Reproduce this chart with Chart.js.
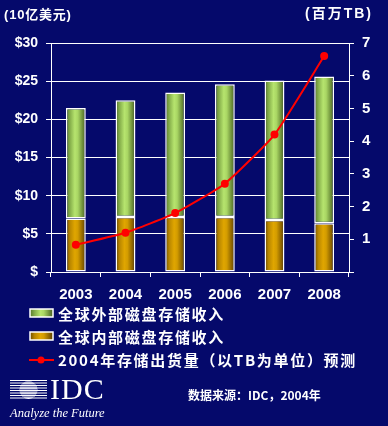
<!DOCTYPE html>
<html>
<head>
<meta charset="utf-8">
<script src="https://cdn.jsdelivr.net/npm/chart.js@4"></script>
<style>
  html, body { margin: 0; padding: 0; background: #05096b; }
  canvas { display: block; }
</style>
</head>
<body>
<canvas id="chart" width="388" height="426"></canvas>
<script>
// данные
const years = ["2003", "2004", "2005", "2006", "2007", "2008"];
const internalRevenue = [7.0, 7.2, 7.2, 7.2, 6.8, 6.4];       // 全球内部磁盘存储收入
const externalRevenue = [14.5, 15.3, 16.3, 17.4, 18.3, 19.2];  // 全球外部磁盘存储收入
const shippedTB = [0.83, 1.2, 1.8, 2.7, 4.2, 6.6];             // 出货量 (百万TB)
const leftTicks = [0, 5, 10, 15, 20, 25, 30];
const rightTicks = [0, 1, 2, 3, 4, 5, 6, 7];

const legendNames = [
    "全球外部磁盘存储收入",
    "全球内部磁盘存储收入",
    "2004年存储出货量（以TB为单位）预测"
];

const BG = "#05096b";
const BAR_PCT = 0.4;

const greenStops = [[0, "#56772c"], [0.2, "#84ad4a"], [0.45, "#b6e46e"], [0.6, "#a9d664"], [0.85, "#698a38"], [1, "#4c6226"]];
const brownStops = [[0, "#6e4c00"], [0.2, "#b88600"], [0.45, "#e0a600"], [0.6, "#d39c00"], [0.85, "#8a6200"], [1, "#5c4000"]];

function barGradient(ctx, stops, fallback) {
    const chart = ctx.chart;
    const xs = chart.scales && chart.scales.x;
    if (!xs || !chart.chartArea || ctx.dataIndex === undefined) return fallback;
    const xc = xs.getPixelForValue(ctx.dataIndex);
    const hw = xs.width / years.length * BAR_PCT / 2;
    const g = chart.ctx.createLinearGradient(xc - hw, 0, xc + hw, 0);
    stops.forEach(s => g.addColorStop(s[0], s[1]));
    return g;
}

function swatch(c, x, y, w, h, stops) {
    const g = c.createLinearGradient(x, 0, x + w, 0);
    stops.forEach(s => g.addColorStop(s[0], s[1]));
    c.fillStyle = g;
    c.fillRect(x, y, w, h);
    c.strokeStyle = "#ffffff";
    c.lineWidth = 1.5;
    c.strokeRect(x, y, w, h);
}

// подписи, легенда, логотип
const decor = {
    id: "decor",
    afterDraw(chart) {
        const c = chart.ctx;
        c.save();
        c.fillStyle = "#ffffff";
        c.textBaseline = "middle";

        c.font = 'bold 13px "Liberation Sans", "Noto Sans CJK SC"';
        c.letterSpacing = "0.8px";
        c.textAlign = "left";
        c.fillText("(10亿美元)", 4, 15);
        c.font = 'bold 14px "Liberation Sans", "Noto Sans CJK SC"';
        c.letterSpacing = "2px";
        c.fillText("(百万TB)", 305, 14);

        // легенда
        swatch(c, 30, 309, 23, 8, greenStops);
        swatch(c, 30, 332, 23, 8, brownStops);
        c.strokeStyle = "#ff0000";
        c.lineWidth = 2;
        c.beginPath();
        c.moveTo(29, 360);
        c.lineTo(54, 360);
        c.stroke();
        c.fillStyle = "#ff0000";
        c.beginPath();
        c.arc(41, 360, 3.5, 0, Math.PI * 2);
        c.fill();

        c.fillStyle = "#ffffff";
        c.font = 'bold 15px "Noto Sans CJK SC"';
        c.letterSpacing = "1.7px";
        c.fillText(legendNames[0], 58, 314);
        c.fillText(legendNames[1], 58, 337);
        c.fillText(legendNames[2], 58, 360);

        c.font = 'bold 12px "Noto Sans CJK SC"';
        c.letterSpacing = "0px";
        c.fillText("数据来源：IDC，2004年", 188, 395);

        // IDC логотип
        c.strokeStyle = "#ffffff";
        c.lineWidth = 1;
        for (let y = 380.5; y <= 399; y += 2.5) {
            c.beginPath();
            c.moveTo(10, y);
            c.lineTo(47, y);
            c.stroke();
        }
        c.save();
        c.beginPath();
        c.arc(28.5, 390, 9, 0, Math.PI * 2);
        c.clip();
        c.fillStyle = "#ffffff";
        c.fillRect(18, 380, 22, 20);
        c.strokeStyle = BG;
        c.lineWidth = 0.8;
        for (let y = 381.8; y <= 399; y += 2.5) {
            c.beginPath();
            c.moveTo(18, y);
            c.lineTo(40, y);
            c.stroke();
        }
        c.restore();

        c.fillStyle = "#ffffff";
        c.font = '30px "Liberation Serif"';
        c.letterSpacing = "1px";
        c.fillText("IDC", 50, 391);
        c.font = 'italic 12.5px "Liberation Serif"';
        c.letterSpacing = "0px";
        c.fillText("Analyze the Future", 10, 414);
        c.restore();
    }
};

Chart.defaults.font.family = '"Liberation Sans", "Noto Sans CJK SC"';
Chart.defaults.color = "#ffffff";

new Chart(document.getElementById("chart"), {
    type: "bar",
    data: {
        labels: years,
        datasets: [
            {
                label: "全球内部磁盘存储收入",
                data: internalRevenue,
                yAxisID: "y",
                order: 1,
                backgroundColor: ctx => barGradient(ctx, brownStops, "#d9a000"),
                borderColor: "#ffffff",
                borderWidth: 1.5,
                borderSkipped: false,
                categoryPercentage: 1,
                barPercentage: BAR_PCT
            },
            {
                label: "全球外部磁盘存储收入",
                data: externalRevenue,
                yAxisID: "y",
                order: 1,
                backgroundColor: ctx => barGradient(ctx, greenStops, "#a8d860"),
                borderColor: "#ffffff",
                borderWidth: 1.5,
                borderSkipped: false,
                categoryPercentage: 1,
                barPercentage: BAR_PCT
            },
            {
                type: "line",
                label: "2004年存储出货量（以TB为单位）预测",
                data: shippedTB,
                yAxisID: "y2",
                order: 0,
                borderColor: "#ff0000",
                backgroundColor: "#ff0000",
                borderWidth: 2,
                pointRadius: 4,
                pointBorderWidth: 0,
                tension: 0.15,
                stack: "line"
            }
        ]
    },
    options: {
        responsive: false,
        animation: false,
        devicePixelRatio: 1,
        layout: { padding: { left: 0, right: 0, top: 43, bottom: 124 } },
        plugins: {
            legend: { display: false },
            tooltip: { enabled: false }
        },
        scales: {
            x: {
                stacked: true,
                afterFit: s => { s.height = 30; },
                grid: { drawOnChartArea: false, color: "#ffffff", tickLength: 5, offset: true },
                border: { color: "#ffffff", width: 1 },
                ticks: { color: "#ffffff", font: { size: 15, weight: "bold" }, padding: 9 }
            },
            y: {
                stacked: true,
                position: "left",
                min: leftTicks[0],
                max: leftTicks[leftTicks.length - 1],
                afterFit: s => { s.width = 51; },
                afterBuildTicks: s => { s.ticks = leftTicks.map(v => ({ value: v })); },
                grid: { color: "#ffffff", lineWidth: 1, tickLength: 5 },
                border: { color: "#ffffff", width: 1 },
                ticks: {
                    color: "#ffffff",
                    font: { size: 14, weight: "bold" },
                    padding: 8,
                    callback: v => v === 0 ? "$" : "$" + v
                }
            },
            y2: {
                position: "right",
                min: rightTicks[0],
                max: rightTicks[rightTicks.length - 1],
                afterFit: s => { s.width = 39; },
                afterBuildTicks: s => { s.ticks = rightTicks.map(v => ({ value: v })); },
                grid: { drawOnChartArea: false, color: "#ffffff", tickLength: 5 },
                border: { color: "#ffffff", width: 1 },
                ticks: {
                    color: "#ffffff",
                    font: { size: 15, weight: "bold" },
                    padding: 8,
                    callback: v => v === 0 ? "" : String(v)
                }
            }
        }
    },
    plugins: [decor]
});
</script>
</body>
</html>
